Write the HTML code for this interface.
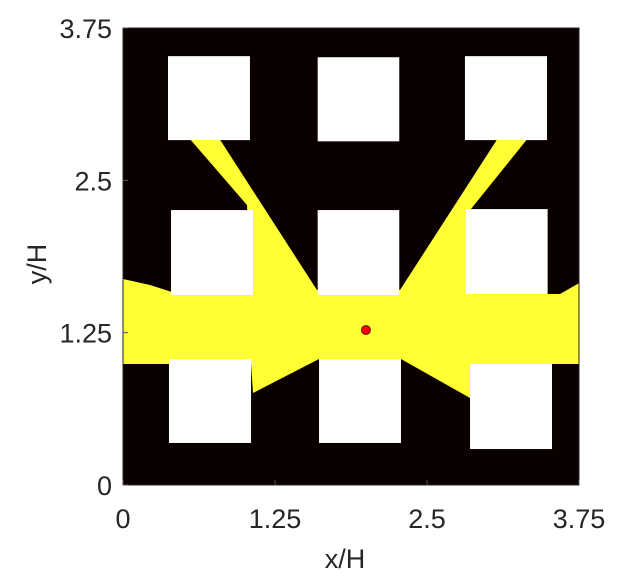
<!DOCTYPE html>
<html><head><meta charset="utf-8"><style>
html,body{margin:0;padding:0;background:#fff;}
svg{display:block;font-family:"Liberation Sans",Arial,sans-serif;}
</style></head><body>
<svg id="chart" width="630" height="586" viewBox="0 0 630 586"></svg>
<script>
const xTicks=[0,1.25,2.5,3.75];
const yTicks=[0,1.25,2.5,3.75];
const tickLabels=["0","1.25","2.5","3.75"];
// obstacle squares [x0,x1,y0,y1] in H units
const squares=[
[0.370,1.044,2.830,3.519],[1.601,2.272,2.820,3.510],[2.812,3.487,2.830,3.519],
[0.395,1.069,1.559,2.256],[1.601,2.272,1.559,2.256],[2.820,3.492,1.567,2.264],
[0.378,1.053,0.345,1.034],[1.612,2.286,0.345,1.034],[2.854,3.528,0.295,0.993]];
// yellow region outline
const regionX=[0,0.222,0.428,1.044,1.020,0.543,0.789,1.595,2.278,3.084,3.331,2.821,2.854,3.594,3.75,3.75,2.854,2.854,2.286,1.612,1.069,1.053,0];
const regionY=[1.690,1.641,1.575,1.559,2.297,2.847,2.847,1.600,1.600,2.847,2.847,2.215,1.567,1.567,1.657,0.993,0.993,0.714,1.034,1.034,0.755,0.993,0.993];
const pointX=[1.998], pointY=[1.272];

const L=123,R=579,T=28,B=485;
const sx=v=>L+(v/3.75)*(R-L);
const sy=v=>B-(v/3.75)*(B-T);
const NS="http://www.w3.org/2000/svg";
const svg=document.getElementById('chart');
function mk(t,a,p){const e=document.createElementNS(NS,t);for(const k in a)e.setAttribute(k,a[k]);(p||svg).appendChild(e);return e;}

const bg=mk('rect',{x:L,y:T,width:R-L,height:B-T,fill:'#0a0000'});



const pts=regionX.map((x,i)=>sx(x)+','+sy(regionY[i])).join(' ');
const poly=mk('polygon',{points:pts,fill:'#ffff33'});



squares.forEach((s,i)=>{
  const r=mk('rect',{x:sx(s[0]),y:sy(s[3]),width:sx(s[1])-sx(s[0]),height:sy(s[2])-sy(s[3]),fill:'#ffffff'});
  
  
});

pointX.forEach((x,i)=>{
  const c=mk('circle',{cx:sx(x),cy:sy(pointY[i]),r:4.5,fill:'#ff0000',stroke:'#300',['stroke-width']:0.8});
  
  
});

const fr=mk('rect',{x:L,y:T,width:R-L,height:B-T,fill:'none',stroke:'#262626','stroke-width':1});



xTicks.forEach((v,i)=>{
  mk('line',{x1:sx(v),x2:sx(v),y1:B,y2:B-5,stroke:'#555','stroke-width':1});
  const t=mk('text',{x:sx(v),y:528,'text-anchor':'middle','font-size':27,fill:'#262626'});
  t.textContent=tickLabels[i];
  
  
});
yTicks.forEach((v,i)=>{
  mk('line',{x1:L,x2:L+5,y1:sy(v),y2:sy(v),stroke:'#555','stroke-width':1});
  const t=mk('text',{x:112,y:sy(v)+10,'text-anchor':'end','font-size':27,fill:'#262626'});
  t.textContent=tickLabels[i];
  
  
});
const xl=mk('text',{x:345,y:568,'text-anchor':'middle','font-size':27,fill:'#262626'});
xl.textContent='x/H';


const yl=mk('text',{x:0,y:0,'text-anchor':'middle','font-size':27,fill:'#262626',transform:'translate(46,264) rotate(-90)'});
yl.textContent='y/H';


</script>
</body></html>
